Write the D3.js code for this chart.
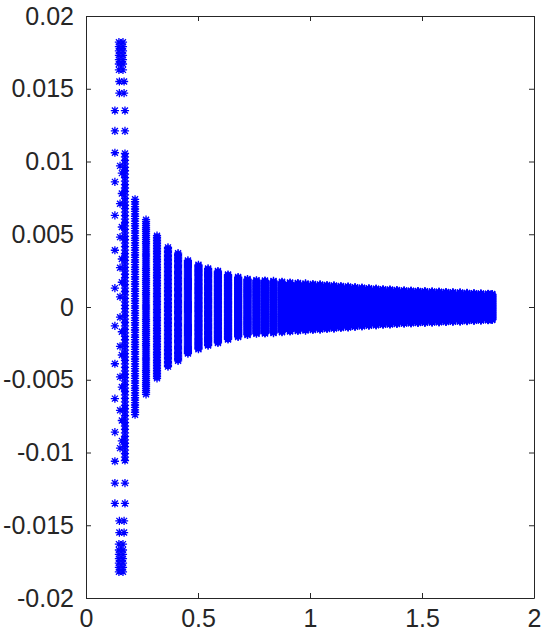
<!DOCTYPE html>
<html>
<head>
<meta charset="utf-8">
<script src="https://cdn.jsdelivr.net/npm/d3@7/dist/d3.min.js"></script>
<style>
  html, body { margin: 0; padding: 0; background: #ffffff; }
  svg { display: block; }
</style>
</head>
<body>
<svg id="chart" width="543" height="640"></svg>
<script>
// ---------- data ----------
const xTicks = [0, 0.5, 1, 1.5, 2];
const yTicks = [-0.02, -0.015, -0.01, -0.005, 0, 0.005, 0.01, 0.015, 0.02];
const yTickLabels = ["-0.02", "-0.015", "-0.01", "-0.005", "0", "0.005", "0.01", "0.015", "0.02"];

// dense columns: x position and half-height (|y| of outermost point)
const colX = [0.174, 0.219, 0.268, 0.317, 0.366, 0.411, 0.455, 0.502, 0.545, 0.589,
  0.634, 0.679, 0.721, 0.761, 0.799, 0.837, 0.875, 0.911, 0.946, 0.980,
  1.013, 1.045, 1.076, 1.107, 1.138, 1.170, 1.201, 1.232, 1.263, 1.295,
  1.326, 1.357, 1.388, 1.420, 1.451, 1.482, 1.513, 1.545, 1.576, 1.607,
  1.638, 1.670, 1.701, 1.732, 1.763, 1.795, 1.813];
const colAmp = [0.01055, 0.0074, 0.0060, 0.0049, 0.0041, 0.0037, 0.0032, 0.0029, 0.00265, 0.00247,
  0.00223, 0.00206, 0.00192, 0.00184, 0.00182, 0.00179, 0.00173, 0.00168, 0.00165, 0.00162,
  0.00158, 0.00155, 0.00151, 0.00148, 0.00144, 0.00141, 0.00136, 0.00133, 0.00129, 0.00126,
  0.00122, 0.00120, 0.00117, 0.00114, 0.00112, 0.00110, 0.00109, 0.00107, 0.00105, 0.00103,
  0.00101, 0.00100, 0.00097, 0.00095, 0.00093, 0.00091, 0.00089];
const pointsPerColumn = 90;

// sparse stars of the first cluster (mirrored about y = 0)
const sparseX = [0.147, 0.165, 0.147, 0.165, 0.147, 0.165, 0.147, 0.165, 0.147, 0.165,
  0.147, 0.165, 0.147, 0.165, 0.149, 0.170, 0.149, 0.170, 0.129, 0.174, 0.129, 0.174,
  0.129, 0.129, 0.129, 0.129, 0.129,
  0.152, 0.152, 0.152, 0.152, 0.152,
  0.160, 0.160, 0.160, 0.160, 0.160];
const sparseY = [0.0182, 0.0182, 0.0179, 0.0179, 0.0176, 0.0176, 0.0173, 0.0173, 0.0170, 0.0170,
  0.0167, 0.0167, 0.0163, 0.0163, 0.0155, 0.0155, 0.0147, 0.0147, 0.0135, 0.0135, 0.0121, 0.0121,
  0.0106, 0.0086, 0.0063, 0.0039, 0.0013,
  0.0097, 0.0071, 0.0048, 0.0027, 0.0007,
  0.0092, 0.0078, 0.0055, 0.0033, 0.0017];

(function () {
  // ---------- build point table ----------
  const points = [];
  colX.forEach((x, k) => {
    const a = colAmp[k];
    for (let i = 0; i < pointsPerColumn; i++) {
      points.push({ x: x, y: -a + 2 * a * i / (pointsPerColumn - 1) });
    }
  });
  sparseX.forEach((x, k) => {
    points.push({ x: x, y: sparseY[k] });
    if (sparseY[k] !== 0) points.push({ x: x, y: -sparseY[k] });
  });

  // ---------- layout ----------
  const svg = d3.select("#chart");
  const mL = 86, mR = 534, mT = 16, mB = 598;
  const xScale = d3.scaleLinear().domain([0, 2]).range([mL, mR]);
  const yScale = d3.scaleLinear().domain([-0.02, 0.02]).range([mB, mT]);
  const axisColor = "#262626";
  const font = "'Liberation Sans', Arial, Helvetica, sans-serif";

  // markers (MATLAB '*')
  const r = 4.1, d = 3.0;
  const starPath = `M${-r},0H${r}M0,${-r}V${r}M${-d},${-d}L${d},${d}M${-d},${d}L${d},${-d}`;
  svg.append("g").selectAll("path").data(points).join("path")
    .attr("transform", p => `translate(${xScale(p.x)},${yScale(p.y)})`)
    .attr("d", starPath)
    .attr("fill", "none")
    .attr("stroke", "#0000ff")
    .attr("stroke-width", 1.3);

  // axes (ticks inside, box on)
  const tickLen = 5;
  const fmtY = v => yTickLabels[yTicks.indexOf(v)];
  const axB = d3.axisBottom(xScale).tickValues(xTicks).tickSizeInner(-tickLen).tickSizeOuter(0).tickPadding(11).tickFormat(d3.format("~g"));
  const axL = d3.axisLeft(yScale).tickValues(yTicks).tickSizeInner(-tickLen).tickSizeOuter(0).tickPadding(12).tickFormat(fmtY);
  const axT = d3.axisTop(xScale).tickValues(xTicks).tickSizeInner(-tickLen).tickSizeOuter(0).tickFormat("");
  const axR = d3.axisRight(yScale).tickValues(yTicks).tickSizeInner(-tickLen).tickSizeOuter(0).tickFormat("");

  function style(g) {
    g.attr("font-size", null).attr("font-family", null);
    g.selectAll("path.domain").attr("stroke", axisColor).attr("stroke-width", 1);
    g.selectAll(".tick line").attr("stroke", axisColor).attr("stroke-width", 1);
    g.selectAll(".tick text").attr("fill", axisColor).style("font-family", font).style("font-size", "25px");
  }
  svg.append("g").attr("transform", `translate(0,${mB})`).call(axB).call(style);
  svg.append("g").attr("transform", `translate(${mL},0)`).call(axL).call(style);
  svg.append("g").attr("transform", `translate(0,${mT})`).call(axT).call(style);
  svg.append("g").attr("transform", `translate(${mR},0)`).call(axR).call(style);
})();
</script>
</body>
</html>
